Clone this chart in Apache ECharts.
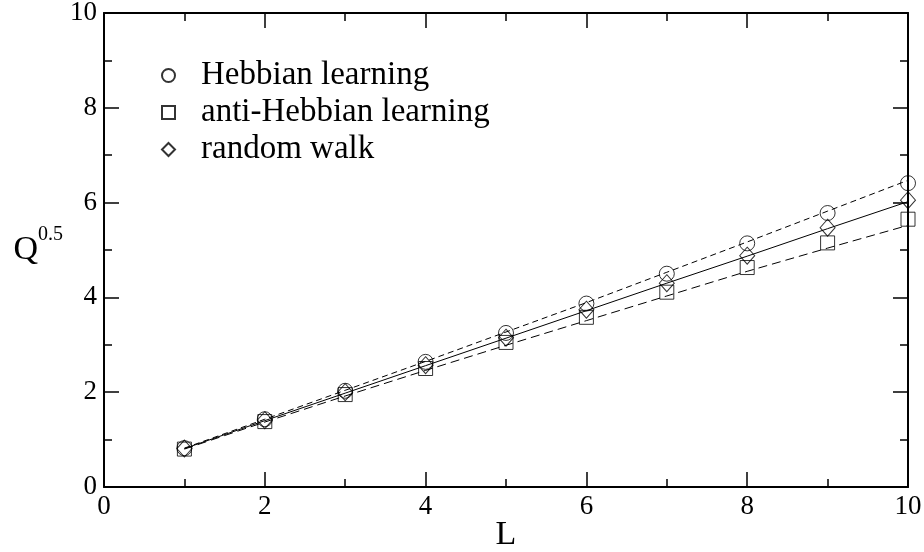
<!DOCTYPE html>
<html>
<head>
<meta charset="utf-8">
<script src="https://cdn.jsdelivr.net/npm/echarts@6/dist/echarts.min.js"></script>
<style>html,body{margin:0;padding:0;background:#fff;}#c{width:924px;height:552px;}</style>
</head>
<body>
<div id="c"></div>
<script>
const L = [1, 2, 3, 4, 5, 6, 7, 8, 9, 10];
const hebbian = [0.82, 1.43, 2.03, 2.64, 3.25, 3.87, 4.50, 5.14, 5.78, 6.41];
const antiHebbian = [0.80, 1.38, 1.95, 2.50, 3.05, 3.58, 4.11, 4.63, 5.15, 5.65];
const randomWalk = [0.81, 1.41, 2.00, 2.57, 3.15, 3.74, 4.30, 4.88, 5.47, 6.05];
const hebbianFit = [0.82, 1.43, 2.04, 2.65, 3.27, 3.89, 4.53, 5.17, 5.82, 6.47];
const antiFit = [0.80, 1.37, 1.92, 2.46, 2.99, 3.51, 4.03, 4.55, 5.04, 5.52];
const rwFit = [0.81, 1.40, 1.98, 2.56, 3.14, 3.72, 4.30, 4.87, 5.45, 6.02];
const names = ['Hebbian learning', 'anti-Hebbian learning', 'random walk'];
const xTicks = [0, 2, 4, 6, 8, 10];
const yTicks = [0, 2, 4, 6, 8, 10];

const pairs = (ys) => L.map((x, i) => [x, ys[i]]);
const font = 'Liberation Serif';
const hollow = {color: 'rgba(0,0,0,0)', borderColor: '#000', borderWidth: 1};

function mkAxis(extra) {
  return Object.assign({
    type: 'value', min: 0, max: 10, interval: 2,
    axisLine: {show: true, onZero: false, lineStyle: {color: '#000', width: 2}},
    axisTick: {show: true, inside: true, length: 15, lineStyle: {color: '#000', width: 1.5}},
    minorTick: {show: true, splitNumber: 2, length: 8, lineStyle: {color: '#000', width: 1.5}},
    splitLine: {show: false},
    axisLabel: {show: false}
  }, extra);
}
const tickLabel = (m, ticks) => ({show: true, color: '#000', fontFamily: font, fontSize: 27, margin: m,
  formatter: (v) => (ticks.indexOf(v) >= 0 ? String(v) : '')});

const chart = echarts.init(document.getElementById('c'), null, {renderer: 'canvas'});
chart.setOption({
  animation: false,
  backgroundColor: '#fff',
  grid: {left: 104, right: 16, top: 13, bottom: 65, outerBoundsMode: 'none', containLabel: false},
  xAxis: [
    mkAxis({position: 'bottom', axisLabel: tickLabel(6, xTicks), name: 'L', nameLocation: 'middle', nameGap: 31,
      nameMoveOverlap: false,
      nameTextStyle: {color: '#000', fontFamily: font, fontSize: 34}}),
    mkAxis({position: 'top'})
  ],
  yAxis: [
    mkAxis({position: 'left', axisLabel: tickLabel(7, yTicks),
      name: '{q|Q}{s|0.5}', nameLocation: 'middle', nameRotate: 0, nameGap: 41, nameMoveOverlap: false,
      nameTextStyle: {rich: {
        q: {fontFamily: font, fontSize: 34, color: '#000', lineHeight: 34, verticalAlign: 'bottom'},
        s: {fontFamily: font, fontSize: 20, color: '#000', lineHeight: 20, verticalAlign: 'bottom', padding: [0, 0, 22, 0]}
      }}}),
    mkAxis({position: 'right'})
  ],
  legend: {
    data: names, orient: 'vertical', left: 156, top: 54, itemGap: 4,
    itemWidth: 13, itemHeight: 13,
    textStyle: {fontFamily: font, fontSize: 33, color: '#000', lineHeight: 32, padding: [0, 0, 0, 21]}
  },
  series: [
    {name: 'hebbFit', type: 'line', data: pairs(hebbianFit), symbol: 'none', silent: true,
      lineStyle: {color: '#000', width: 1, type: [6, 4]}},
    {name: 'antiFit', type: 'line', data: pairs(antiFit), symbol: 'none', silent: true,
      lineStyle: {color: '#000', width: 1, type: [9, 5]}},
    {name: 'rwFit', type: 'line', data: pairs(rwFit), symbol: 'none', silent: true,
      lineStyle: {color: '#000', width: 1}},
    {name: names[0], type: 'scatter', data: pairs(hebbian), symbol: 'circle', symbolSize: 15, itemStyle: hollow},
    {name: names[1], type: 'scatter', data: pairs(antiHebbian), symbol: 'rect', symbolSize: 14, itemStyle: hollow},
    {name: names[2], type: 'scatter', data: pairs(randomWalk), symbol: 'diamond', symbolSize: [15, 17], itemStyle: hollow}
  ]
});
</script>
</body>
</html>
